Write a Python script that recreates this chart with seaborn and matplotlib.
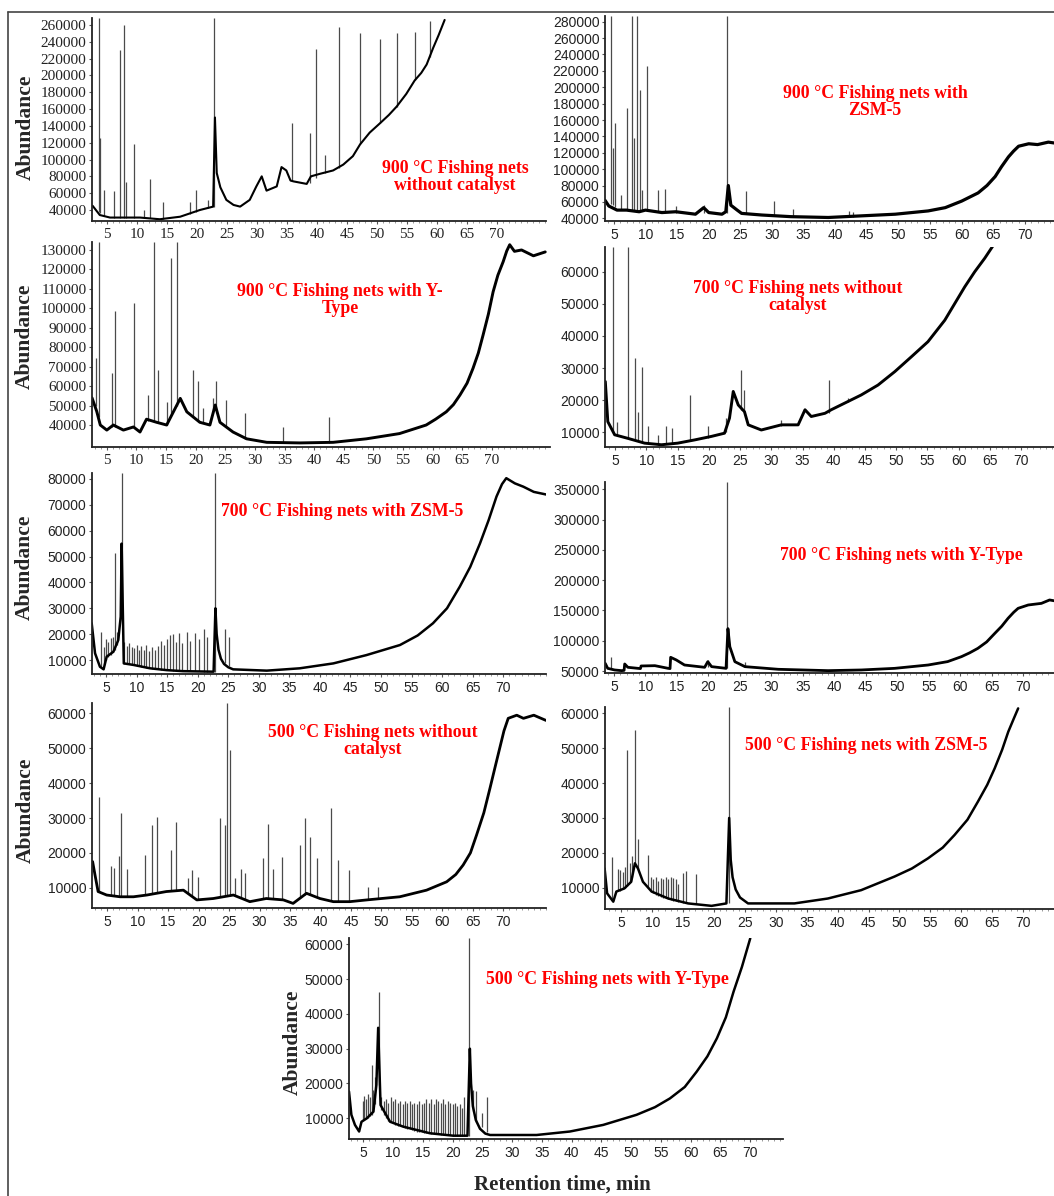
import numpy as np
import matplotlib
matplotlib.use("Agg")
import matplotlib.pyplot as plt
from matplotlib.ticker import MultipleLocator
import seaborn as sns

# --- 900 C, no catalyst ---
p1_bx = [2.6, 3.8, 5.5, 8.0, 10.5, 13.8, 17.2, 20.5, 22.7, 23.0, 23.3, 23.9, 24.9, 26.1, 27.2, 28.8, 29.9,
         30.8, 31.6, 33.3, 34.1, 34.9, 35.6, 36.1, 38.3, 39.0, 40.5, 42.7, 44.4, 46.0, 47.2, 48.8, 50.5,
         52.0, 53.3, 54.9, 56.3, 57.4, 58.3, 59.4, 60.3, 61.3]
p1_by = [45000, 34000, 31000, 31000, 31000, 29000, 32000, 40000, 44000, 150000, 84000, 67000, 52000, 46000,
         44000, 52000, 68000, 80000, 63000, 68000, 91000, 87000, 75000, 74000, 71000, 80000, 83000, 87000,
         94000, 104000, 118000, 132000, 143000, 153000, 163000, 178000, 194000, 203000, 213000, 233000,
         248000, 266000]
p1_px = [3.7, 3.9, 4.5, 6.2, 7.1, 7.9, 8.2, 9.5, 11.2, 12.2, 14.4, 18.8, 19.9, 21.9, 22.85, 35.8, 38.8,
         39.8, 41.3, 43.7, 47.2, 50.5, 53.3, 56.3, 58.8]
p1_ph = [268000, 126000, 64000, 62000, 230000, 260000, 73000, 118000, 40000, 77000, 49000, 49000, 64000,
         52000, 268000, 143000, 131000, 232000, 105000, 258000, 250000, 243000, 250000, 252000, 265000]
p1_pb = [38000, 36000, 33000, 31000, 31000, 31000, 31000, 31000, 30000, 30000, 29000, 35000, 38000, 42000,
         44000, 75000, 72000, 78000, 84000, 90000, 118000, 143000, 163000, 194000, 222000]

# --- 900 C, ZSM-5 ---
p2_bx = [3.6, 4.2, 5.5, 7.0, 9.0, 10.0, 12.6, 14.8, 17.9, 19.2, 20.0, 22.1, 22.7, 23.1, 23.5, 24.5, 25.2,
         28.4, 33.0, 38.9, 44.2, 49.5, 54.7, 57.4, 60.0, 62.6, 64.0, 65.3, 66.3, 67.4, 68.2, 69.0, 70.6,
         72.0, 73.7, 74.6]
p2_by = [62000, 55000, 50000, 50000, 48000, 50000, 47000, 48000, 45000, 53000, 47000, 45000, 48000, 80000,
         56000, 50000, 46000, 44000, 42000, 41000, 43000, 45000, 49000, 53000, 61000, 71000, 80000, 91000,
         103000, 115000, 122000, 128000, 131000, 130000, 133000, 132000]
p2_px = [4.5, 4.8, 5.2, 6.2, 7.0, 7.9, 8.2, 8.7, 9.1, 9.5, 10.3, 12.0, 13.1, 14.8, 19.2, 22.9, 25.9, 30.4,
         33.4, 42.2, 42.8]
p2_ph = [287000, 126000, 156000, 68000, 175000, 287000, 138000, 287000, 197000, 75000, 226000, 75000,
         76000, 55000, 56000, 287000, 73000, 61000, 51000, 49000, 48000]
p2_pb = [58000, 56000, 54000, 50000, 50000, 50000, 50000, 49000, 49000, 49000, 49000, 48000, 48000, 47000,
         46000, 47000, 46000, 43000, 42000, 42000, 42000]

# --- 900 C, Y-Type ---
p3_bx = [2.5, 3.3, 3.9, 5.0, 6.1, 7.8, 9.5, 10.6, 11.7, 13.4, 15.1, 17.4, 18.5, 20.7, 22.4, 23.3, 24.1,
         26.3, 28.6, 32.0, 37.6, 43.2, 48.8, 54.4, 58.9, 60.5, 62.3, 63.5, 64.6, 65.8, 66.8, 67.7, 68.5,
         69.4, 70.2, 71.0, 71.9, 72.5, 73.0, 73.8, 75.0, 77.0, 79.0]
p3_by = [54000, 47000, 40000, 37400, 40000, 37400, 39000, 36400, 43000, 41400, 40000, 53700, 46800, 41400,
         40000, 50300, 41400, 36400, 32900, 31100, 30800, 31100, 32900, 35600, 40000, 43000, 46800, 50500,
         55400, 61500, 69100, 77000, 86200, 97000, 108500, 117000, 124000, 129500, 132700, 129300, 130000,
         127000, 129000]
p3_px = [3.1, 3.6, 5.9, 6.3, 9.6, 11.9, 12.9, 13.7, 15.1, 15.9, 16.8, 19.6, 20.4, 21.3, 23.0, 23.4, 25.1,
         28.4, 34.7, 42.5]
p3_ph = [74300, 134000, 66700, 98500, 102800, 55400, 134000, 68400, 51700, 125700, 134000, 68400, 62400,
         48700, 53700, 62400, 52900, 46100, 39200, 44300]
p3_pb = [50000, 44000, 39000, 39000, 39000, 42000, 42000, 41000, 40000, 45000, 50000, 44000, 42000, 41000,
         46000, 48000, 39000, 33000, 31000, 31000]

# --- 700 C, no catalyst ---
p4_bx = [3.4, 3.8, 4.9, 7.0, 9.7, 12.4, 15.0, 17.7, 20.4, 22.5, 23.3, 23.9, 24.7, 25.7, 26.3, 28.4, 31.6,
         34.3, 35.4, 36.4, 38.6, 39.6, 44.4, 47.1, 49.8, 52.5, 55.1, 57.8, 59.4, 61.0, 62.6, 64.2, 65.6]
p4_by = [25800, 13300, 9200, 8100, 6600, 6100, 6600, 7600, 8700, 9700, 14400, 22700, 18500, 16400, 12300,
         10700, 12300, 12300, 17000, 14900, 15900, 17000, 21600, 24700, 28900, 33600, 38200, 44900, 50100,
         55300, 60000, 64200, 68300]
p4_px = [4.6, 5.3, 7.0, 8.1, 8.7, 9.2, 10.3, 11.9, 13.2, 14.1, 17.0, 19.8, 22.8, 25.1, 25.7, 31.6, 39.2, 42.3]
p4_ph = [67700, 13300, 67700, 33000, 16400, 30400, 11800, 9200, 11800, 11200, 21600, 11800, 14400, 29400,
         23200, 13800, 26300, 20600]
p4_pb = [10000, 9000, 8100, 8000, 7500, 7000, 6500, 6100, 6200, 6400, 7200, 8200, 10000, 17000, 16400,
         12000, 16000, 19500]

# --- 700 C, ZSM-5 ---
p5_bx = [2.65, 3.2, 4.0, 4.6, 5.1, 6.2, 7.0, 7.4, 7.55, 7.9, 9.5, 12.2, 14.9, 17.6, 22.6, 22.9, 23.1, 23.4,
         23.8, 24.3, 25.0, 25.8, 31.3, 36.7, 42.2, 47.6, 53.1, 56.0, 58.5, 60.8, 62.9, 64.6, 66.2, 67.6,
         68.9, 69.8, 70.5, 71.9, 73.3, 75.0, 77.0]
p5_by = [24200, 12600, 7400, 6400, 11300, 13200, 17700, 26800, 55000, 8700, 8100, 6800, 6100, 5700, 5500,
         30000, 20000, 14000, 10500, 8500, 7200, 6400, 5900, 6800, 8700, 11900, 15800, 19500, 24200, 30000,
         38400, 46000, 55100, 64000, 73200, 78000, 80300, 78300, 77000, 75000, 74000]
p5_px = [4.1, 4.6, 5.0, 5.4, 5.8, 6.2, 6.5, 6.8, 7.65, 8.0, 8.4, 8.8, 9.2, 9.6, 10.0, 10.4, 10.8, 11.2,
         11.6, 12.0, 12.5, 13.0, 13.5, 14.0, 14.5, 15.0, 15.5, 16.0, 16.5, 17.0, 17.5, 18.2, 18.8, 19.5,
         20.2, 21.0, 21.6, 22.8, 24.4, 25.1]
p5_ph = [21000, 15000, 18000, 17000, 18500, 19000, 51200, 21000, 82300, 17000, 15500, 16500, 15000, 14500,
         16000, 14000, 15500, 14000, 16000, 13500, 15000, 14000, 15500, 17500, 16000, 18000, 19500, 20000,
         17000, 20500, 16500, 21000, 17500, 20500, 18000, 22000, 19000, 82300, 22000, 18800]
p5_pb = [7400, 8000, 10000, 11000, 12000, 13000, 14000, 16000, 26800, 8600, 8500, 8300, 8200, 8100, 7800,
         7600, 7400, 7200, 7000, 6900, 6700, 6600, 6400, 6300, 6200, 6100, 6000, 5900, 5800, 5800, 5700,
         5700, 5600, 5600, 5600, 5500, 5500, 5500, 8800, 7500]

# --- 700 C, Y-Type ---
p6_bx = [3.6, 4.0, 5.1, 6.2, 6.6, 6.7, 7.2, 8.8, 9.2, 9.3, 11.5, 13.6, 13.9, 14.0, 14.9, 16.2, 19.4, 19.9,
         20.5, 22.8, 23.1, 23.4, 24.2, 25.8, 31.1, 39.0, 44.3, 49.6, 54.9, 58.0, 60.2, 61.5, 62.8, 64.2,
         65.5, 66.6, 67.6, 68.5, 69.2, 70.8, 72.9, 74.2, 74.9]
p6_by = [62700, 54400, 51700, 50600, 51000, 61600, 56100, 54400, 54000, 58300, 58800, 54400, 54000, 72600,
         68200, 59900, 56100, 65400, 57200, 54400, 120000, 90200, 65400, 57200, 52800, 50600, 51700, 54400,
         59900, 65500, 73700, 80000, 87400, 98000, 112200, 124000, 137000, 147000, 153500, 159000, 161700,
         167300, 166000]
p6_px = [4.5, 19.9, 23.0, 25.8]
p6_ph = [73700, 68000, 362000, 65400]
p6_pb = [54000, 56000, 54400, 57000]

# --- 500 C, no catalyst ---
p7_bx = [2.6, 3.0, 3.5, 4.9, 7.1, 9.3, 11.5, 14.7, 17.5, 19.7, 22.4, 25.7, 28.4, 31.1, 33.9, 35.5, 37.7,
         39.9, 42.1, 44.8, 47.6, 53.0, 57.4, 60.7, 62.2, 63.4, 64.6, 65.6, 66.8, 67.8, 68.7, 69.4, 70.1,
         70.8, 72.2, 73.3, 75.0, 77.0]
p7_by = [17500, 13600, 8900, 7900, 7400, 7400, 7900, 8900, 9300, 6500, 6900, 7900, 6000, 6900, 6500, 5500,
         8400, 6900, 6000, 6000, 6500, 7400, 9300, 11700, 13800, 16500, 20000, 25100, 31500, 38500, 45000,
         50000, 55000, 58600, 59500, 58600, 59500, 58000]
p7_px = [3.7, 5.6, 6.1, 6.9, 7.3, 8.2, 11.2, 12.4, 13.1, 15.4, 16.3, 18.3, 18.9, 19.9, 23.5, 24.3, 24.6,
         25.1, 26.0, 26.9, 27.6, 30.6, 31.4, 32.2, 33.6, 36.6, 37.4, 38.3, 39.4, 41.7, 42.9, 44.7, 47.8, 49.5]
p7_ph = [36100, 16300, 15700, 19100, 31300, 15400, 19400, 28000, 30400, 20800, 28900, 12700, 15100, 13200,
         30100, 28000, 62900, 49500, 12900, 15500, 14100, 18400, 28200, 15400, 18900, 22200, 30100, 24600,
         18400, 32800, 17900, 15100, 10300, 10300]
p7_pb = [8800, 7800, 7600, 7400, 7400, 7400, 7800, 8200, 8400, 9000, 9100, 8200, 7500, 6500, 7300, 7500,
         7600, 7700, 7600, 7000, 6500, 6700, 6900, 6800, 6500, 7000, 8000, 7800, 7200, 6200, 6000, 6000,
         6600, 6800]

# --- 500 C, ZSM-5 ---
p8_bx = [2.3, 2.7, 3.7, 4.2, 5.5, 6.6, 7.2, 7.7, 8.5, 9.9, 12.6, 15.8, 19.6, 22.0, 22.45, 22.7, 23.0, 23.5,
         24.2, 25.5, 33.0, 38.4, 43.8, 49.2, 52.0, 54.6, 57.0, 58.9, 61.0, 62.7, 64.2, 65.4, 66.6, 67.6,
         68.5, 69.2]
p8_by = [15500, 8400, 6000, 8900, 9800, 11700, 17000, 15500, 11700, 8900, 6900, 5500, 4800, 5500, 30000,
         18000, 13000, 9500, 7200, 5500, 5500, 6900, 9300, 13200, 15500, 18400, 21500, 25100, 29500, 34700,
         39500, 44200, 49500, 54700, 58500, 61400]
p8_px = [3.5, 4.4, 4.8, 5.2, 5.6, 6.0, 6.4, 6.8, 7.2, 7.7, 9.3, 9.8, 10.2, 10.6, 11.0, 11.4, 11.8, 12.2,
         12.6, 13.0, 13.4, 13.8, 14.2, 14.9, 15.5, 17.1, 22.35]
p8_ph = [18900, 15500, 15000, 14500, 16000, 49500, 17000, 19000, 55200, 24100, 19400, 13000, 12500, 13000,
         12000, 12800, 12500, 13000, 12500, 13200, 12800, 12500, 11000, 14100, 14800, 13800, 61900]
p8_pb = [6500, 9000, 9000, 9500, 10000, 10500, 11500, 13000, 17000, 15500, 10000, 9000, 8500, 8000, 7600,
         7300, 7100, 7000, 6900, 6600, 6300, 6100, 5900, 5700, 5500, 5200, 5500]

# --- 500 C, Y-Type ---
p9_bx = [2.6, 3.0, 3.6, 4.3, 4.7, 5.6, 6.7, 7.2, 7.5, 7.9, 9.5, 11.7, 16.2, 20.1, 22.5, 22.9, 23.1, 23.4,
         23.9, 24.6, 25.5, 26.3, 34.1, 39.7, 45.3, 50.9, 54.0, 56.5, 59.0, 61.0, 62.8, 64.4, 65.9, 67.2,
         68.6, 70.0]
p9_by = [17700, 11000, 8100, 6200, 9000, 10000, 11900, 19600, 36000, 13800, 9000, 7600, 5700, 5000, 5000,
         30000, 20000, 13500, 9500, 7000, 5600, 5200, 5200, 6200, 8100, 11000, 13200, 15700, 19000, 23400,
         27800, 33000, 39000, 46400, 53500, 61700]
p9_px = [4.9, 5.2, 5.5, 5.8, 6.1, 6.4, 6.7, 7.0, 7.6, 8.0, 8.4, 8.8, 9.2, 9.6, 10.0, 10.4, 10.8, 11.2,
         11.6, 12.0, 12.4, 12.8, 13.2, 13.6, 14.0, 14.4, 14.8, 15.2, 15.6, 16.0, 16.4, 16.8, 17.2, 17.6,
         18.0, 18.4, 18.8, 19.2, 19.6, 20.0, 20.4, 20.8, 21.2, 21.6, 22.0, 22.8, 23.4, 24.0, 24.9, 25.8]
p9_ph = [15000, 16500, 15500, 17000, 16000, 25300, 18000, 22000, 46400, 16000, 15000, 15500, 14500, 16000,
         15000, 15500, 14500, 15000, 14000, 15000, 14500, 15000, 14000, 14500, 14000, 15000, 14000, 14500,
         15500, 14500, 15500, 14000, 15500, 15000, 14500, 15500, 14000, 15000, 14500, 14000, 14500, 13500,
         14000, 13000, 16000, 61800, 18100, 17700, 11400, 16200]
p9_pb = [9500, 9800, 10000, 10200, 10600, 11000, 11900, 14000, 19600, 12500, 11000, 10000, 9300, 9000,
         8600, 8200, 7900, 7700, 7500, 7200, 7000, 6800, 6600, 6400, 6200, 6100, 6000, 5900, 5800, 5700,
         5600, 5500, 5500, 5400, 5300, 5200, 5200, 5100, 5100, 5000, 5000, 5000, 5000, 5000, 5000, 5000,
         12000, 9000, 7500, 6000]

titles = ["900 °C Fishing nets\nwithout catalyst", "900 °C Fishing nets with\nZSM-5",
          "900 °C Fishing nets with Y-\nType", "700 °C Fishing nets without\ncatalyst",
          "700 °C Fishing nets with ZSM-5", "700 °C Fishing nets with Y-Type",
          "500 °C Fishing nets without\ncatalyst", "500 °C Fishing nets with ZSM-5",
          "500 °C Fishing nets with Y-Type"]

W, H = 1054, 1196
sns.set_style("white")
fig = plt.figure(figsize=(W / 100, H / 100), dpi=100)

# layout in pixels: (left, top, right, bottom), xlim, ylim, ytick step, serif ticks,
# title centre, ylabel centre, baseline width
layout = [
    ((92, 18, 546, 221), (2.5, 78.2), (26900, 268300), (40000, 260000, 20000), True, (455, 177), (26, 127), 1.5),
    ((605, 16, 1054, 221), (3.6, 74.6), (36700, 287000), (40000, 280000, 20000), False, (875, 102), None, 2.3),
    ((92, 242, 550, 447), (2.5, 79.8), (28700, 134100), (40000, 130000, 10000), True, (340, 300), (25, 336), 2.1),
    ((605, 247, 1054, 447), (3.35, 75.3), (5400, 67700), (10000, 60000, 10000), False, (798, 297), None, 2.1),
    ((92, 473, 546, 674), (2.7, 77.0), (4600, 82300), (10000, 80000, 10000), False, (342, 512), (25, 567), 1.8),
    ((605, 482, 1054, 673), (3.57, 74.9), (46700, 362100), (50000, 350000, 50000), False, (901, 555), None, 2.0),
    ((92, 703, 546, 908), (2.5, 77.0), (4180, 63000), (10000, 60000, 10000), False, (373, 741), (26, 810), 2.0),
    ((605, 707, 1054, 909), (2.36, 75.0), (3900, 61800), (10000, 60000, 10000), False, (866, 746), None, 1.8),
    ((349, 938, 783, 1139), (2.6, 75.5), (4050, 61800), (10000, 60000, 10000), False, (607, 979), (293, 1042), 1.8),
]
traces = [
    (p1_bx, p1_by, p1_px, p1_ph, p1_pb), (p2_bx, p2_by, p2_px, p2_ph, p2_pb),
    (p3_bx, p3_by, p3_px, p3_ph, p3_pb), (p4_bx, p4_by, p4_px, p4_ph, p4_pb),
    (p5_bx, p5_by, p5_px, p5_ph, p5_pb), (p6_bx, p6_by, p6_px, p6_ph, p6_pb),
    (p7_bx, p7_by, p7_px, p7_ph, p7_pb), (p8_bx, p8_by, p8_px, p8_ph, p8_pb),
    (p9_bx, p9_by, p9_px, p9_ph, p9_pb),
]

serif = "Liberation Serif"
for (rect, xl, yl, yt, use_serif, tpos, lpos, lw), (bx, by, px, ph, pb), title in zip(layout, traces, titles):
    l, t, r, b = rect
    ax = fig.add_axes([l / W, 1 - b / H, (r - l) / W, (b - t) / H])
    ax.patch.set_alpha(0)
    ax.vlines(px, pb, ph, color="#4a4a4a", lw=0.9)
    sns.lineplot(x=bx, y=by, ax=ax, color="black", lw=lw, sort=False)
    ax.set_xlim(*xl)
    ax.set_ylim(*yl)
    ax.set_xticks(np.arange(5, 75, 5))
    ax.xaxis.set_minor_locator(MultipleLocator(1))
    ax.set_yticks(np.arange(yt[0], yt[1] + 1, yt[2]))
    for s in ["top", "right"]:
        ax.spines[s].set_visible(False)
    for s in ["left", "bottom"]:
        ax.spines[s].set_color("#222222")
        ax.spines[s].set_linewidth(1.3)
    ax.tick_params(axis="both", which="major", length=2, width=0.8, color="#555555", pad=2,
                   labelsize=11 if use_serif else 10, labelcolor="#222222", bottom=True, left=True)
    ax.tick_params(axis="x", which="minor", length=1.5, width=0.6, color="#888888", bottom=True)
    ax.tick_params(axis="x", which="major", pad=3)
    for lab in ax.get_xticklabels() + ax.get_yticklabels():
        lab.set_fontfamily(serif if use_serif else "Liberation Sans")
    ax.set_xlabel("")
    ax.set_ylabel("")
    fig.text(tpos[0] / W, 1 - tpos[1] / H, title, color="#ff0000", fontsize=12.8, fontweight="bold",
             family=serif, ha="center", va="center", linespacing=1.0)
    if lpos is not None:
        fig.text(lpos[0] / W, 1 - lpos[1] / H, "Abundance", rotation=90, fontsize=15.5,
                 fontweight="bold", family=serif, ha="center", va="center")

fig.text(562 / W, 1 - 1185 / H, "Retention time, min", fontsize=15, fontweight="bold",
         family=serif, ha="center", va="center")

# outer frame (top and left edges visible)
fig.add_artist(plt.Line2D([8 / W, 1], [1 - 12 / H, 1 - 12 / H], color="#444444", lw=1.2))
fig.add_artist(plt.Line2D([8 / W, 8 / W], [0, 1 - 12 / H], color="#444444", lw=1.2))

fig.savefig("out.png", dpi=100, facecolor="white")
